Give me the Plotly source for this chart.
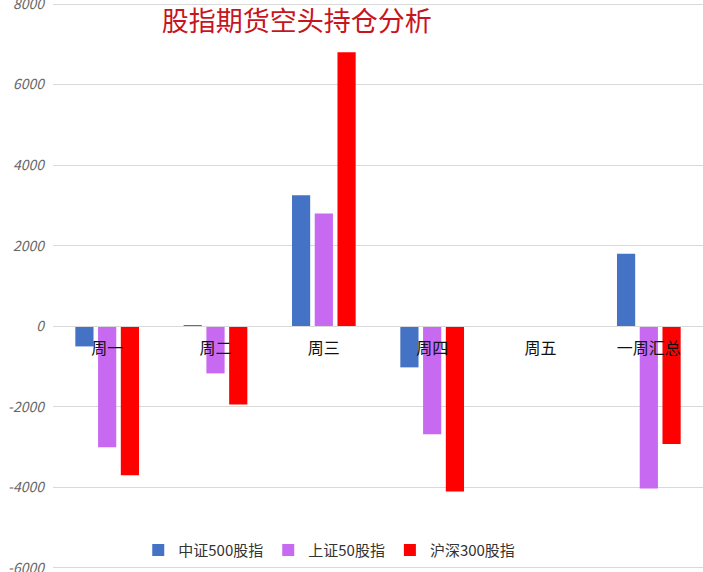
import plotly.graph_objects as go

categories = ["周一", "周二", "周三", "周四", "周五", "一周汇总"]
series_names = ["中证500股指", "上证50股指", "沪深300股指"]
csi500 = [-500, 30, 3250, -1020, 0, 1800]
sse50 = [-3000, -1170, 2800, -2680, 0, -4030]
hs300 = [-3700, -1940, 6800, -4100, 0, -2920]
y_ticks = [-6000, -4000, -2000, 0, 2000, 4000, 6000, 8000]
colors = ["#4472C4", "#C869F2", "#FF0000"]

fig = go.Figure()
for name, vals, c in zip(series_names, [csi500, sse50, hs300], colors):
    fig.add_trace(go.Bar(x=categories, y=vals, name=name, marker_color=c,
                         marker_line_width=0))

ymin, ymax = -6100, 8100
zero_pos = (0 - ymin) / (ymax - ymin)

fig.update_layout(
    width=703, height=572,
    margin=dict(l=53, r=0, t=0, b=0),
    paper_bgcolor="white", plot_bgcolor="white",
    barmode="group", bargap=0.37, bargroupgap=0.2,
    font=dict(family="Noto Sans CJK SC", color="#222"),
    title=dict(text="股指期货空头持仓分析", x=0.23, xanchor="left", y=0.962, yanchor="middle",
               font=dict(family="Noto Sans CJK SC", size=27, color="#C8141E")),
    legend=dict(orientation="h", x=0.425, xanchor="center", y=0.038, yanchor="middle",
                font=dict(size=15, color="#333"), bgcolor="rgba(0,0,0,0)",
                itemwidth=30, traceorder="normal"),
    xaxis=dict(anchor="free", position=zero_pos, showline=True, linecolor="#D9D9D9",
               linewidth=1, ticks="", tickfont=dict(size=16, color="#111"),
               ticklabelstandoff=8),
    yaxis=dict(range=[ymin, ymax], tickmode="array", tickvals=y_ticks,
               ticktext=[str(v) for v in y_ticks], showgrid=True, gridcolor="#D9D9D9",
               zeroline=False, tickfont=dict(size=14, color="#666", style="italic"),
               ticklabelstandoff=8, automargin=False, ticklabeloverflow="allow"),
)
fig.write_html("out.html", config={"displayModeBar": False},
               post_script="document.body.style.margin='0';document.body.style.overflow='hidden';")
